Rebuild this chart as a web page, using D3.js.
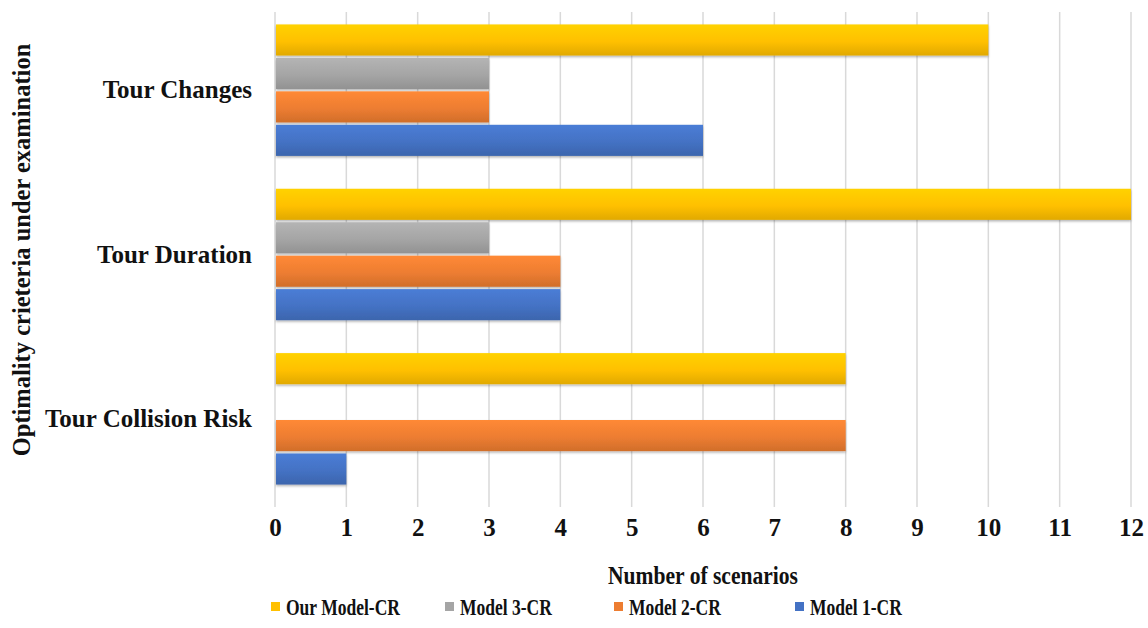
<!DOCTYPE html>
<html>
<head>
<meta charset="utf-8">
<script src="https://cdn.jsdelivr.net/npm/d3@7"></script>
<style>
  html, body { margin: 0; padding: 0; background: #fff; }
  svg { display: block; }
  text { font-family: "Liberation Serif", "Times New Roman", serif; font-weight: bold; fill: #111; }
</style>
</head>
<body>
<svg id="chart" width="1148" height="628"></svg>
<script>
// Criteria shown on the vertical axis, top to bottom
const categories = ["Tour Changes", "Tour Duration", "Tour Collision Risk"];
// Series in drawing order within each group (top to bottom)
const seriesNames = ["Our Model-CR", "Model 3-CR", "Model 2-CR", "Model 1-CR"];
const seriesColors = ["#FFC000", "#A5A5A5", "#ED7D31", "#4472C4"];
// Number of scenarios per criterion, one array per series
const ourModel = [10, 12, 8];
const model3 = [3, 3, 0];
const model2 = [3, 4, 8];
const model1 = [6, 4, 1];
const seriesValues = [ourModel, model3, model2, model1];
const xTicks = [0, 1, 2, 3, 4, 5, 6, 7, 8, 9, 10, 11, 12];
const xTitle = "Number of scenarios";
const yTitle = "Optimality crieteria under examination";

const svg = d3.select("#chart");
const margin = { left: 275, right: 17, top: 8, bottom: 127 };
const W = 1148, H = 628;
const plotW = W - margin.left - margin.right;
const plotH = H - margin.top - margin.bottom;

const x = d3.scaleLinear().domain([0, 12]).range([margin.left, margin.left + plotW]);
const y0 = d3.scaleBand().domain(categories).range([margin.top, margin.top + plotH]).paddingInner(0.2).paddingOuter(0.1);
const y1 = d3.scaleBand().domain(seriesNames).range([0, y0.bandwidth()]).paddingInner(0.07);

// Vertical shading for each bar colour
const defs = svg.append("defs");
seriesColors.forEach((c, i) => {
  const g = defs.append("linearGradient").attr("id", "grad" + i)
    .attr("x1", 0).attr("y1", 0).attr("x2", 0).attr("y2", 1);
  const base = d3.color(c);
  g.append("stop").attr("offset", "0%").attr("stop-color", base.brighter(0.25));
  g.append("stop").attr("offset", "55%").attr("stop-color", base);
  g.append("stop").attr("offset", "100%").attr("stop-color", base.darker(0.35));
});
const shadow = defs.append("filter").attr("id", "shadow").attr("x", "-5%").attr("y", "-20%").attr("width", "110%").attr("height", "150%");
shadow.append("feDropShadow").attr("dx", 0).attr("dy", 1.5).attr("stdDeviation", 1.2).attr("flood-color", "#000").attr("flood-opacity", 0.3);

// Gridlines
svg.append("g").selectAll("line").data(xTicks).join("line")
  .attr("x1", d => x(d)).attr("x2", d => x(d))
  .attr("y1", margin.top + 4).attr("y2", margin.top + plotH + 6)
  .attr("stroke", "#d9d9d9").attr("stroke-width", 1.5);

// Bars
const groups = svg.append("g").selectAll("g").data(categories).join("g")
  .attr("transform", d => `translate(0,${y0(d)})`);
groups.selectAll("rect")
  .data((cat, ci) => seriesNames.map((s, si) => ({ s, si, v: seriesValues[si][ci] })).filter(d => d.v > 0))
  .join("rect")
  .attr("x", x(0) + 1)
  .attr("y", d => y1(d.s))
  .attr("width", d => x(d.v) - x(0) - 1)
  .attr("height", y1.bandwidth())
  .attr("fill", d => `url(#grad${d.si})`)
  .attr("filter", "url(#shadow)");

// X axis tick labels
const xAxis = d3.axisBottom(x).tickValues(xTicks).tickSize(0).tickPadding(0).tickFormat(d3.format("d"));
const gx = svg.append("g").attr("transform", `translate(0,${margin.top + plotH + 17})`).call(xAxis);
gx.select(".domain").remove();
gx.selectAll("text").attr("font-size", 25).attr("font-family", "Liberation Serif").attr("font-weight", "bold").attr("fill", "#111");

// Y axis category labels
const yAxis = d3.axisLeft(y0).tickSize(0).tickPadding(23);
const gy = svg.append("g").attr("transform", `translate(${margin.left},0)`).call(yAxis);
gy.select(".domain").remove();
gy.selectAll("text").attr("font-size", 25).attr("font-family", "Liberation Serif").attr("font-weight", "bold").attr("fill", "#111");

// Axis titles
svg.append("text").attr("x", x(6)).attr("y", 584).attr("text-anchor", "middle")
  .attr("font-size", 26).attr("textLength", 190).attr("lengthAdjust", "spacingAndGlyphs").text(xTitle);
svg.append("text").attr("transform", `translate(30,250) rotate(-90)`)
  .attr("text-anchor", "middle").attr("font-size", 24.5).text(yTitle);

// Legend
const legendX = [271, 445, 614, 795];
const legend = svg.append("g").selectAll("g").data(seriesNames).join("g")
  .attr("transform", (d, i) => `translate(${legendX[i]},606)`);
legend.append("rect").attr("x", 0).attr("y", -4).attr("width", 9).attr("height", 9)
  .attr("fill", (d, i) => seriesColors[i]);
legend.append("text").attr("transform", "translate(15,9) scale(0.73,1)")
  .attr("font-size", 24).text(d => d);
</script>
</body>
</html>
